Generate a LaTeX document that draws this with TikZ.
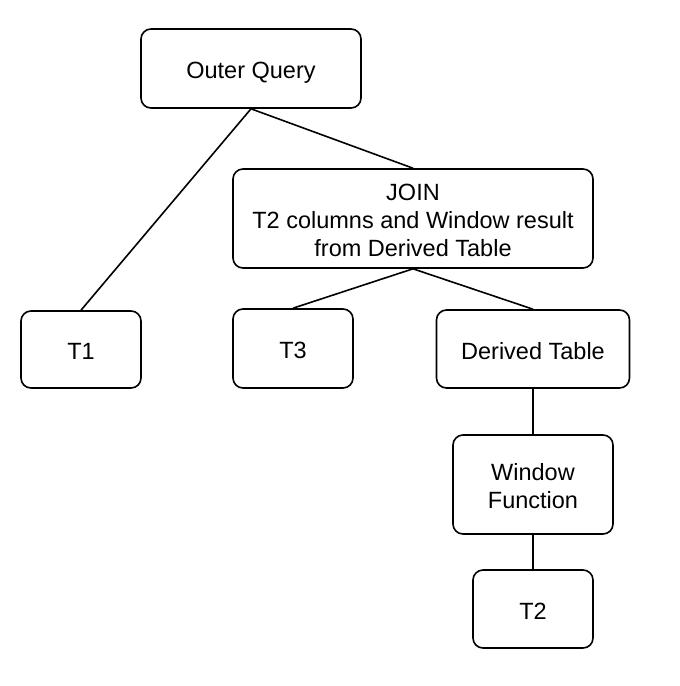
\documentclass[tikz,border=0pt]{standalone}
\usepackage{fontspec}
\setmainfont{Liberation Sans}
\newcommand{\topst}{\rule{0pt}{24pt}}
\newcommand{\botst}{\rule[-4pt]{0pt}{4pt}}
\begin{document}
\begin{tikzpicture}[x=1pt,y=-1pt,
  box/.style={draw=black, line width=1.6pt, rounded corners=10pt, fill=white,
    align=center, inner sep=0pt, font=\fontsize{23.5}{28}\selectfont},
  link/.style={draw=black, line width=1.6pt}]
\useasboundingbox[fill=white] (0,0) rectangle (680,686);
\node[box, minimum width=220pt, minimum height=79pt] (oq) at (251,68.5) {\topst Outer Query\botst};
\node[box, minimum width=360pt, minimum height=99pt] (join) at (413,218.5) {\topst JOIN\\T2 columns and Window result\\from Derived Table\botst};
\node[box, minimum width=120pt, minimum height=77pt] (t1) at (81,349.5) {\topst T1\botst};
\node[box, minimum width=120pt, minimum height=79pt] (t3) at (293,348.5) {\topst T3\botst};
\node[box, minimum width=193pt, minimum height=78pt] (dt) at (533,349) {\topst Derived Table\botst};
\node[box, minimum width=160pt, minimum height=99pt] (wf) at (533,484.5) {\topst Window\\Function\botst};
\node[box, minimum width=120pt, minimum height=78pt] (t2) at (533,609) {\topst T2\botst};
\draw[link] (oq.south) -- (t1.north);
\draw[link] (oq.south) -- (join.north);
\draw[link] (join.south) -- (t3.north);
\draw[link] (join.south) -- (dt.north);
\draw[link] (dt.south) -- (wf.north);
\draw[link] (wf.south) -- (t2.north);
\end{tikzpicture}
\end{document}
